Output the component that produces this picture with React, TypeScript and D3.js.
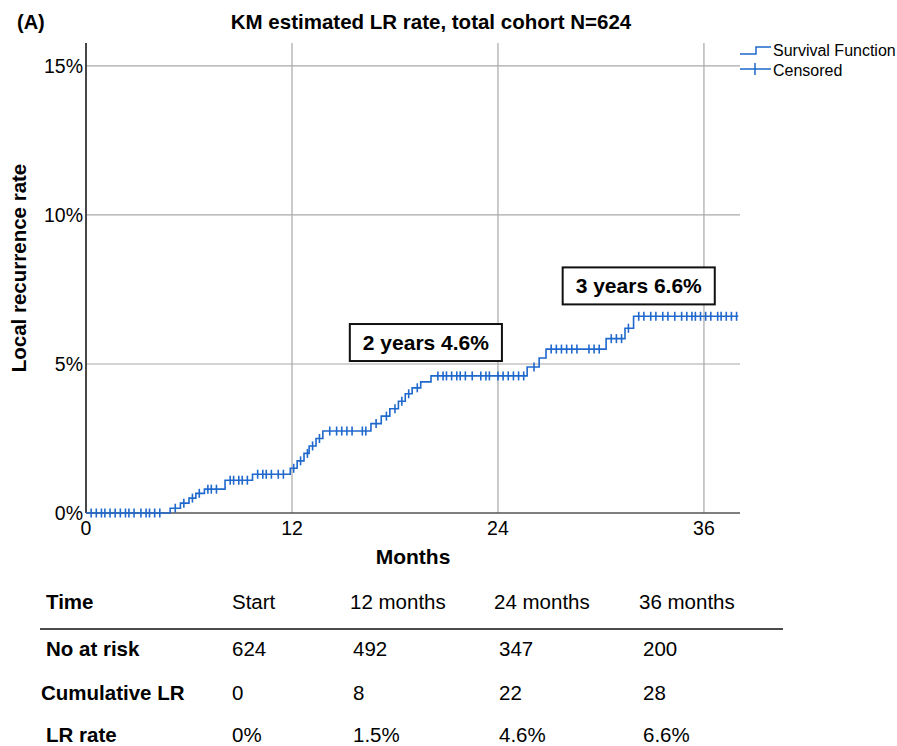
import React, { useRef, useEffect } from 'react'
import * as d3 from 'd3'

// KM step function: event months and cumulative LR rate (%)
const stepMonths = [0, 4.9, 5.5, 6.0, 6.4, 6.9, 8.1, 9.7, 11.9, 12.3, 12.7, 13.0, 13.4, 13.8, 16.6, 17.2, 17.7, 18.2, 18.6, 19.0, 19.5, 20.1, 25.7, 26.4, 26.8, 30.3, 31.4, 31.9]
const stepRates = [0, 0.16, 0.33, 0.5, 0.66, 0.8, 1.1, 1.3, 1.5, 1.75, 2.0, 2.25, 2.5, 2.75, 3.0, 3.25, 3.5, 3.75, 4.0, 4.2, 4.4, 4.6, 4.9, 5.2, 5.5, 5.85, 6.2, 6.6]
const lastFollowUp = 38.0

// censored observations (months)
const censorMonths = [
  0.3, 0.6, 0.9, 1.1, 1.4, 1.7, 2.0, 2.3, 2.5, 2.8, 3.2, 3.5, 3.7, 4.0, 4.3,
  5.2, 5.7, 6.2, 6.6, 7.1, 7.3, 7.6, 8.4, 8.6, 8.9, 9.1, 9.4, 10.0, 10.3, 10.5, 10.8, 11.2, 11.5,
  12.1, 12.5, 12.9, 13.2, 13.6,
  14.2, 14.6, 14.9, 15.2, 15.5, 16.1, 16.3,
  16.9, 17.5, 18.0, 18.4, 18.8, 19.3,
  20.5, 20.8, 21.0, 21.3, 21.6, 21.8, 22.1, 22.5, 23.0, 23.3, 23.5, 24.0, 24.3, 24.6, 24.9, 25.2, 25.5,
  26.1, 27.1, 27.4, 27.7, 28.0, 28.3, 28.6, 29.3, 29.6, 29.9,
  30.6, 30.9, 31.2, 31.6,
  32.2, 32.5, 32.9, 33.2, 33.6, 33.9, 34.3, 34.7, 35.0, 35.3, 35.5, 35.8, 36.1, 36.4, 36.8, 37.0, 37.3, 37.6, 37.9,
]

const xTicks = [0, 12, 24, 36]
const yTicks = [0, 5, 10, 15]

const annotations = [
  { label: '2 years 4.6%', month: 19.8, rate: 5.72 },
  { label: '3 years 6.6%', month: 32.2, rate: 7.62 },
]

const tableHeader = ['Time', 'Start', '12 months', '24 months', '36 months']
const tableRows = [
  ['No at risk', '624', '492', '347', '200'],
  ['Cumulative LR', '0', '8', '22', '28'],
  ['LR rate', '0%', '1.5%', '4.6%', '6.6%'],
]

const W = 897
const H = 746
const BLUE = '#1f68cc'
const FONT = 'Liberation Sans, Arial, Helvetica, sans-serif'

const App: React.FC = () => {
  const svgRef = useRef<SVGSVGElement | null>(null)

  useEffect(() => {
    if (!svgRef.current) return
    const svg = d3.select(svgRef.current)
    svg.selectAll('*').remove()

    const x = d3.scaleLinear().domain([0, 38.1]).range([86, 740])
    const y = d3.scaleLinear().domain([0, 15.77]).range([513, 43])

    const rateAt = (m: number) => {
      const i = d3.bisectRight(stepMonths, m) - 1
      return stepRates[Math.max(0, i)]
    }

    // gridlines
    const grid = svg.append('g').attr('stroke', '#a8a8a8').attr('stroke-width', 1.2)
    yTicks.filter(t => t > 0).forEach(t => {
      grid.append('line').attr('x1', x(0)).attr('x2', x(38.1)).attr('y1', y(t)).attr('y2', y(t))
    })
    xTicks.filter(t => t > 0).forEach(t => {
      grid.append('line').attr('x1', x(t)).attr('x2', x(t)).attr('y1', y(15.77)).attr('y2', y(0))
    })

    // axes lines
    svg.append('line').attr('x1', x(0)).attr('x2', x(0)).attr('y1', y(15.77)).attr('y2', y(0))
      .attr('stroke', '#333').attr('stroke-width', 1.8)
    svg.append('line').attr('x1', x(0)).attr('x2', x(38.1)).attr('y1', y(0)).attr('y2', y(0))
      .attr('stroke', '#555').attr('stroke-width', 1.6)

    // tick labels
    svg.append('g').selectAll('text').data(yTicks).join('text')
      .attr('x', 83).attr('y', d => y(d)).attr('dy', '0.35em')
      .attr('text-anchor', 'end').style('font-family', FONT).style('font-size', '19.5px')
      .text(d => `${d}%`)
    svg.append('g').selectAll('text').data(xTicks).join('text')
      .attr('x', d => x(d)).attr('y', 528).attr('dy', '0.35em')
      .attr('text-anchor', 'middle').style('font-family', FONT).style('font-size', '19.5px')
      .text(d => d)

    // step curve
    const pts: [number, number][] = stepMonths.map((m, i) => [m, stepRates[i]])
    pts.push([lastFollowUp, stepRates[stepRates.length - 1]])
    const line = d3.line<[number, number]>()
      .x(d => x(d[0])).y(d => y(d[1])).curve(d3.curveStepAfter)
    svg.append('path').datum(pts).attr('d', line)
      .attr('fill', 'none').attr('stroke', BLUE).attr('stroke-width', 1.6)

    // censor marks
    svg.append('g').selectAll('line').data(censorMonths).join('line')
      .attr('x1', d => x(d)).attr('x2', d => x(d))
      .attr('y1', d => y(rateAt(d)) - 4.5).attr('y2', d => y(rateAt(d)) + 4.5)
      .attr('stroke', BLUE).attr('stroke-width', 1.6)

    // annotation boxes
    annotations.forEach(a => {
      const g = svg.append('g').attr('transform', `translate(${x(a.month)},${y(a.rate)})`)
      const t = g.append('text').attr('text-anchor', 'middle').attr('dy', '0.35em')
        .style('font-family', FONT).style('font-size', '21px').style('font-weight', 'bold')
        .text(a.label)
      const bw = (t.node() as SVGTextElement).getComputedTextLength() + 26
      g.insert('rect', 'text').attr('x', -bw / 2).attr('y', -18.5).attr('width', bw).attr('height', 37)
        .attr('fill', 'white').attr('stroke', '#111').attr('stroke-width', 2)
    })

    // title, panel label, axis titles
    svg.append('text').attr('x', 17).attr('y', 22).attr('dy', '0.35em')
      .style('font-family', FONT).style('font-size', '20px').style('font-weight', 'bold').text('(A)')
    svg.append('text').attr('x', 431).attr('y', 22).attr('dy', '0.35em').attr('text-anchor', 'middle')
      .style('font-family', FONT).style('font-size', '20.5px').style('font-weight', 'bold')
      .text('KM estimated LR rate, total cohort N=624')
    svg.append('text').attr('x', 413).attr('y', 557).attr('dy', '0.35em').attr('text-anchor', 'middle')
      .style('font-family', FONT).style('font-size', '21px').style('font-weight', 'bold').text('Months')
    svg.append('text').attr('transform', 'translate(19,268) rotate(-90)').attr('dy', '0.35em')
      .attr('text-anchor', 'middle')
      .style('font-family', FONT).style('font-size', '20.5px').style('font-weight', 'bold')
      .text('Local recurrence rate')

    // legend
    const lg = svg.append('g').attr('stroke', BLUE).attr('stroke-width', 1.5).attr('fill', 'none')
    lg.append('path').attr('d', 'M740,54H756V47H771')
    lg.append('path').attr('d', 'M740,69H771M755,63V75')
    svg.append('text').attr('x', 773).attr('y', 50).attr('dy', '0.35em')
      .style('font-family', FONT).style('font-size', '16px').text('Survival Function')
    svg.append('text').attr('x', 773).attr('y', 70).attr('dy', '0.35em')
      .style('font-family', FONT).style('font-size', '16px').text('Censored')

    // at-risk table
    const colX = [46, 232, 350, 494, 639]
    const valX = [46, 232, 353, 499, 643]
    const rowY = [649, 693, 735]
    svg.append('g').selectAll('text').data(tableHeader).join('text')
      .attr('x', (d, i) => colX[i]).attr('y', 602).attr('dy', '0.35em')
      .style('font-family', FONT).style('font-size', '20.5px')
      .style('font-weight', (d, i) => (i === 0 ? 'bold' : 'normal'))
      .text(d => d)
    svg.append('line').attr('x1', 40).attr('x2', 783).attr('y1', 629).attr('y2', 629)
      .attr('stroke', '#111').attr('stroke-width', 1.5)
    tableRows.forEach((row, r) => {
      svg.append('g').selectAll('text').data(row).join('text')
        .attr('x', (d, i) => (i === 0 && r === 1 ? 41 : valX[i])).attr('y', rowY[r]).attr('dy', '0.35em')
        .style('font-family', FONT).style('font-size', '20.5px')
        .style('font-weight', (d, i) => (i === 0 ? 'bold' : 'normal'))
        .text(d => d)
    })
  }, [])

  return (
    <svg ref={svgRef} width={W} height={H}
      style={{ position: 'absolute', left: 0, top: 0, background: 'white' }} />
  )
}

export default App
